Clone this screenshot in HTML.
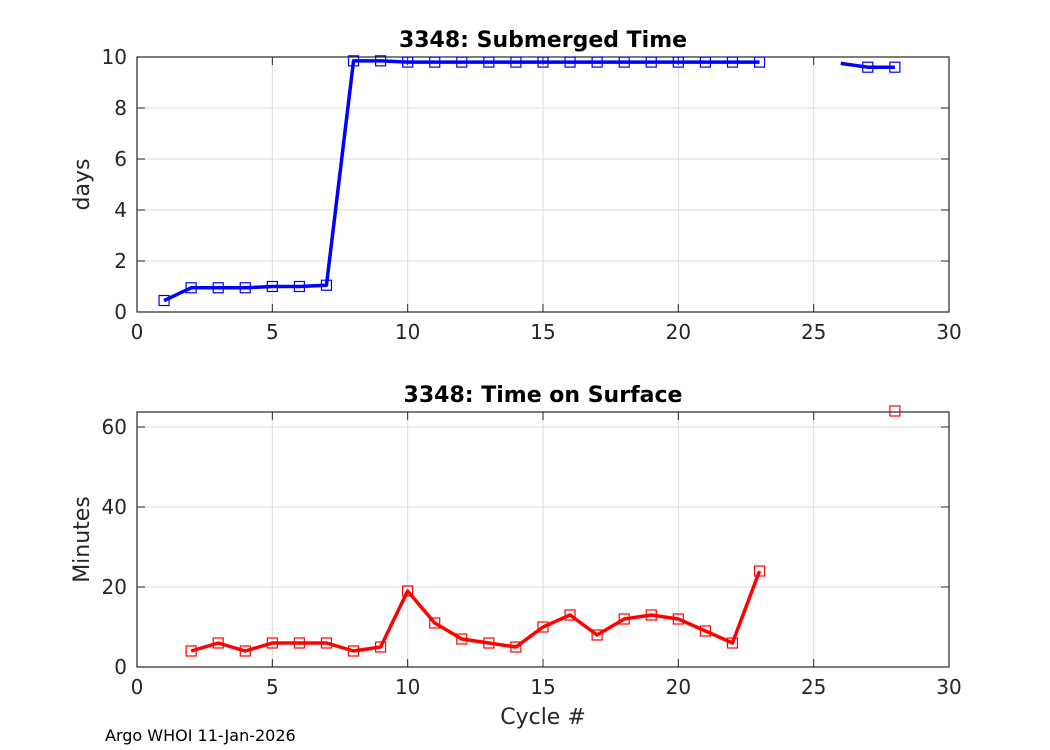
<!DOCTYPE html>
<html><head><meta charset="utf-8"><style>
body{margin:0;background:#fff;}
svg{display:block;font-family:"DejaVu Sans","Liberation Sans",sans-serif;}
</style></head><body>
<svg id="c" width="1050" height="750"></svg>
<script>
const cyclesTop=[1,2,3,4,5,6,7,8,9,10,11,12,13,14,15,16,17,18,19,20,21,22,23,null,26,27,28];
const submergedDays=[0.45,0.95,0.95,0.95,1.0,1.0,1.05,9.85,9.85,9.8,9.8,9.8,9.8,9.8,9.8,9.8,9.8,9.8,9.8,9.8,9.8,9.8,9.8,null,9.75,9.6,9.6];
const topMarkers=[true,true,true,true,true,true,true,true,true,true,true,true,true,true,true,true,true,true,true,true,true,true,true,false,false,true,true];
const cyclesBot=[2,3,4,5,6,7,8,9,10,11,12,13,14,15,16,17,18,19,20,21,22,23,null,28];
const surfaceMin=[4,6,4,6,6,6,4,5,19,11,7,6,5,10,13,8,12,13,12,9,6,24,null,64];
const xTicks=[0,5,10,15,20,25,30];
const yTicksTop=[0,2,4,6,8,10];
const yTicksBot=[0,20,40,60];
const NS='http://www.w3.org/2000/svg';
const svg=document.getElementById('c');
function el(t,a,p){const e=document.createElementNS(NS,t);for(const k in a)e.setAttribute(k,a[k]);(p||svg).appendChild(e);return e;}
function panel(o){
  const L=137,R=949,T=o.T,B=o.B;
  const xs=v=>L+(v-0)/30*(R-L);
  const ys=v=>B-(v-o.ymin)/(o.ymax-o.ymin)*(B-T);
  const g=el('g',{});
  
  
  el('rect',{x:L,y:T,width:R-L,height:B-T,fill:'#fff'},g);
  xTicks.forEach(t=>{el('line',{x1:xs(t),x2:xs(t),y1:T,y2:B,stroke:'#dcdcdc','stroke-width':1},g);});
  o.yt.forEach(t=>{el('line',{x1:L,x2:R,y1:ys(t),y2:ys(t),stroke:'#dcdcdc','stroke-width':1},g);});
  xTicks.forEach(t=>{
    el('line',{x1:xs(t),x2:xs(t),y1:B,y2:B-8,stroke:'#262626'},g);
    el('line',{x1:xs(t),x2:xs(t),y1:T,y2:T+8,stroke:'#262626'},g);
    const tx=el('text',{x:xs(t),y:B+27,'text-anchor':'middle','font-size':20,fill:'#262626'},g);tx.textContent=t;
    
    
  });
  o.yt.forEach(t=>{
    el('line',{x1:L,x2:L+8,y1:ys(t),y2:ys(t),stroke:'#262626'},g);
    el('line',{x1:R,x2:R-8,y1:ys(t),y2:ys(t),stroke:'#262626'},g);
    const tx=el('text',{x:L-10,y:ys(t)+7,'text-anchor':'end','font-size':20,fill:'#262626'},g);tx.textContent=t;
    
    
  });
  el('rect',{x:L,y:T,width:R-L,height:B-T,fill:'none',stroke:'#262626','stroke-width':1.2},g);
  let d='',pen=false;
  o.xv.forEach((x,i)=>{const v=o.yv[i];if(x===null||v===null){pen=false;return;}d+=(pen?'L':'M')+xs(x)+' '+ys(v);pen=true;});
  const ln=el('path',{d:d,fill:'none',stroke:o.col,'stroke-width':3.5,'stroke-linejoin':'round'},g);
  
  
  o.xv.forEach((x,i)=>{const v=o.yv[i];if(x===null||v===null)return;if(o.mk&&!o.mk[i])return;
    const m=el('rect',{x:xs(x)-5,y:ys(v)-5,width:10,height:10,fill:'none',stroke:o.col,'stroke-width':1.2},g);
    
    
  });
  const ti=el('text',{x:(L+R)/2,y:T-10,'text-anchor':'middle','font-size':22,'font-weight':'bold',fill:'#000'},g);ti.textContent=o.title;
  
  
  const yl=el('text',{x:0,y:0,'text-anchor':'middle','font-size':22,fill:'#262626',transform:`translate(89,${(T+B)/2}) rotate(-90)`},g);yl.textContent=o.ylabel;
  
  
}
panel({name:'submerged-panel',T:57,B:312,ymin:0,ymax:10,yt:yTicksTop,xv:cyclesTop,yv:submergedDays,mk:topMarkers,col:'#0000ff',title:'3348: Submerged Time',ylabel:'days'});
panel({name:'surface-panel',T:412,B:667,ymin:0,ymax:63.75,yt:yTicksBot,xv:cyclesBot,yv:surfaceMin,mk:null,col:'#ff0000',title:'3348: Time on Surface',ylabel:'Minutes'});
const xl=el('text',{x:543,y:724,'text-anchor':'middle','font-size':22,fill:'#262626'});xl.textContent='Cycle #';


const ft=el('text',{x:105,y:741,'font-size':16,fill:'#000'});ft.textContent='Argo WHOI 11-Jan-2026';


</script>
</body></html>
